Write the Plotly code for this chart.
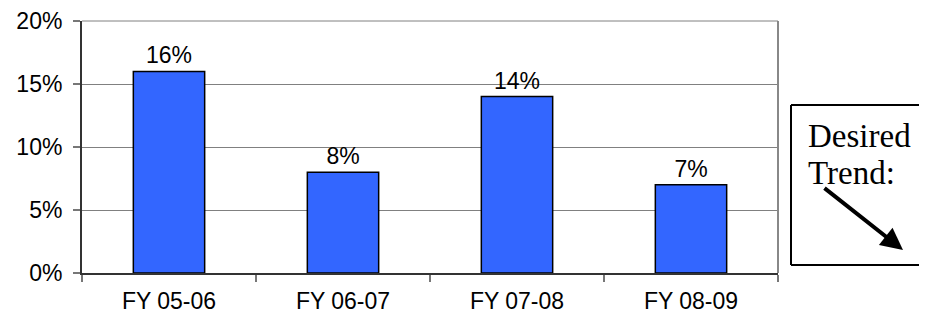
import plotly.graph_objects as go

categories = ["FY 05-06", "FY 06-07", "FY 07-08", "FY 08-09"]
values = [0.16, 0.08, 0.14, 0.07]
y_ticks = [0, 0.05, 0.10, 0.15, 0.20]
y_tick_labels = ["0%", "5%", "10%", "15%", "20%"]

# page body has an 8px margin; figure is placed at (8, 8)
OFF = 8
PL, PR, PT, PB = 82 - OFF, 778 - OFF, 21 - OFF, 273 - OFF
W, H = 927 - 2 * OFF, 323 - 2 * OFF
PW, PH = PR - PL, PB - PT


def px(x):
    return (x - OFF - PL) / PW


def py(y):
    return (PB - (y - OFF)) / PH


fig = go.Figure()
fig.add_trace(go.Bar(
    x=categories, y=values,
    marker=dict(color="#3366FF", line=dict(color="#000000", width=1.5)),
    width=0.41,
    text=[f"{round(v*100)}%" for v in values],
    textposition="outside",
    textfont=dict(family="Liberation Sans, Arial", size=23, color="#000000"),
    cliponaxis=False,
))

fig.update_layout(
    width=W, height=H,
    margin=dict(l=PL, r=W - PR, t=PT, b=H - PB, autoexpand=False),
    paper_bgcolor="white", plot_bgcolor="white",
    showlegend=False,
    font=dict(family="Liberation Sans, Arial", size=23, color="#000000"),
)
fig.update_xaxes(
    automargin=False,
    showline=True, linecolor="#333333", linewidth=2,
    ticks="outside", tickson="boundaries", ticklen=7, tickcolor="#777777", tickwidth=1.5,
    showgrid=False, ticklabelstandoff=6,
    tickfont=dict(size=23),
)
fig.update_yaxes(
    automargin=False,
    range=[0, 0.2], tickvals=y_ticks, ticktext=y_tick_labels,
    showline=True, linecolor="#333333", linewidth=2,
    ticks="outside", ticklen=7, tickcolor="#777777", tickwidth=1.5,
    showgrid=True, gridcolor="#808080", gridwidth=1,
    zeroline=False, ticklabelstandoff=6, ticklabeloverflow="allow",
    tickfont=dict(size=23),
)
# top and right border of plot area
fig.add_shape(type="line", xref="paper", yref="paper", x0=1, x1=1, y0=0, y1=1,
              line=dict(color="#888888", width=2))
fig.add_shape(type="line", xref="paper", yref="paper", x0=0, x1=1, y0=1, y1=1,
              line=dict(color="#808080", width=1))

# Desired trend box (right side runs off the page)
for (xa, ya, xb, yb) in [(791, 105, 960, 105), (791, 265, 960, 265), (791, 105, 791, 265)]:
    fig.add_shape(type="line", xref="paper", yref="paper",
                  x0=px(xa), y0=py(ya), x1=px(xb), y1=py(yb),
                  line=dict(color="#000000", width=2))
fig.add_annotation(xref="paper", yref="paper", x=px(806), y=py(136),
                   text="Desired", showarrow=False, xanchor="left", yanchor="middle",
                   font=dict(family="Liberation Serif, Times New Roman", size=33, color="#000000"))
fig.add_annotation(xref="paper", yref="paper", x=px(806), y=py(173),
                   text="Trend:", showarrow=False, xanchor="left", yanchor="middle",
                   font=dict(family="Liberation Serif, Times New Roman", size=33, color="#000000"))
fig.add_annotation(xref="paper", yref="paper", x=px(903), y=py(250),
                   ax=-80, ay=-63, text="", showarrow=True,
                   arrowhead=2, arrowsize=1.1, arrowwidth=4, arrowcolor="#000000")

fig.write_html("out.html")
